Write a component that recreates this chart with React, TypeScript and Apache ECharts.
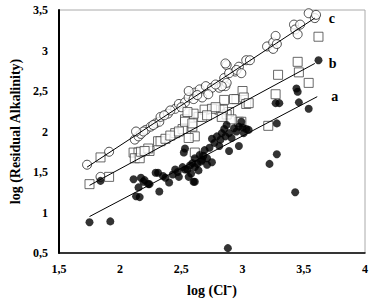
import React, { useEffect, useRef } from "react";
import * as echarts from "echarts";

// Series a: filled black circles [log(Cl-), log(Residual Alkalinity)]
const seriesA: number[][] = [
  [1.75, 0.88], [1.92, 0.89], [1.84, 1.39], [2.11, 1.41], [2.17, 1.43], [2.15, 1.31],
  [2.13, 1.2], [2.16, 1.19], [2.24, 1.35], [2.2, 1.4], [2.32, 1.26], [2.31, 1.49],
  [2.37, 1.43], [2.4, 1.37], [2.45, 1.53], [2.51, 1.56], [2.48, 1.44], [2.55, 1.53],
  [2.52, 1.74], [2.53, 1.79], [2.29, 1.49], [2.59, 1.61], [2.61, 1.67], [2.65, 1.71],
  [2.69, 1.77], [2.6, 1.38], [2.75, 1.91], [2.79, 1.94], [2.83, 1.98], [2.85, 2.03],
  [2.89, 1.98], [2.93, 2.04], [2.97, 2.06], [2.99, 2.12], [2.89, 1.76], [2.97, 1.82],
  [2.81, 1.82], [2.75, 1.62], [2.71, 1.59], [2.19, 1.38], [2.23, 1.35], [3.28, 1.72],
  [3.22, 1.6], [3.43, 1.25], [2.88, 0.56], [2.61, 1.38], [2.56, 1.44], [2.67, 1.65],
  [2.71, 1.67], [2.61, 1.56], [2.53, 1.53], [3.27, 2.35], [3.3, 2.35], [3.46, 2.36],
  [3.54, 2.28], [3.28, 2.1], [3.03, 2.03], [3.05, 2.02], [2.86, 1.94], [3.62, 2.88],
  [3.44, 2.53], [3.45, 2.49], [2.43, 1.47], [2.57, 1.58], [2.63, 1.6], [2.77, 1.86],
  [2.91, 1.92], [3.01, 1.98], [2.95, 2.0], [2.82, 1.9], [2.64, 1.52], [2.68, 1.7],
  [2.73, 1.8], [2.35, 1.45], [2.47, 1.5], [2.58, 1.48], [2.66, 1.63], [2.87, 2.08],
  [3.0, 2.05],
];

// Series b: open squares
const seriesB: number[][] = [
  [1.75, 1.35], [1.91, 1.44], [1.84, 1.68], [2.11, 1.74], [2.15, 1.74], [2.12, 1.67],
  [2.16, 1.67], [2.17, 1.75], [2.24, 1.76], [2.31, 1.88], [2.33, 1.88], [2.37, 1.91],
  [2.45, 1.98], [2.51, 2.03], [2.59, 2.06], [2.61, 1.94], [2.56, 1.92], [2.61, 1.74],
  [2.53, 2.15], [2.64, 2.18], [2.69, 2.27], [2.81, 2.27], [2.85, 2.39], [2.89, 2.24],
  [2.97, 2.12], [2.23, 1.79], [2.2, 1.76], [2.95, 2.4], [2.75, 2.28], [2.67, 2.18],
  [2.6, 2.22], [2.55, 2.24], [2.53, 2.12], [2.59, 2.1], [2.87, 2.21], [2.91, 2.15],
  [3.0, 2.5], [3.01, 2.42], [2.93, 2.4], [2.84, 2.27], [2.83, 2.18], [3.03, 2.34],
  [3.05, 2.35], [2.99, 2.12], [3.21, 2.07], [3.27, 2.46], [3.29, 2.7], [3.46, 2.73],
  [3.45, 2.86], [3.54, 2.6], [3.62, 3.17], [2.41, 1.95], [2.48, 2.0], [2.71, 2.2],
  [2.78, 2.3],
];

// Series c: open circles
const seriesC: number[][] = [
  [1.73, 1.59], [1.91, 1.75], [1.84, 1.44], [2.12, 1.9], [2.15, 1.94], [2.17, 1.97],
  [2.21, 2.02], [2.25, 2.06], [2.29, 2.1], [2.32, 2.12], [2.33, 2.18], [2.39, 2.22],
  [2.45, 2.28], [2.48, 2.34], [2.53, 2.36], [2.56, 2.42], [2.61, 2.48], [2.65, 2.52],
  [2.7, 2.56], [2.75, 2.54], [2.6, 2.4], [2.67, 2.42], [2.72, 2.46], [2.81, 2.54],
  [2.86, 2.56], [2.85, 2.66], [2.87, 2.82], [2.94, 2.74], [2.97, 2.8], [2.56, 2.5],
  [2.86, 2.84], [2.89, 2.72], [2.95, 2.76], [2.99, 2.72], [3.03, 2.88], [3.06, 2.88],
  [3.2, 3.05], [3.25, 3.1], [3.27, 3.18], [3.25, 3.02], [3.28, 3.08], [3.42, 3.32],
  [3.43, 3.26], [3.45, 3.2], [3.47, 3.32], [3.54, 3.46], [3.59, 3.4], [3.6, 3.44],
  [2.87, 2.6], [2.83, 2.56], [2.41, 2.26], [2.36, 2.2], [2.27, 2.08], [2.19, 2.0],
  [2.13, 2.0], [2.5, 2.3], [2.63, 2.45], [2.78, 2.58],
];

// Regression lines (endpoints)
const lineA: number[][] = [[1.75, 0.95], [3.61, 2.43]];
const lineB: number[][] = [[1.75, 1.335], [3.59, 2.84]];
const lineC: number[][] = [[1.73, 1.56], [3.59, 3.4]];

const xTicks = [1.5, 4];
const yTicks = [0.5, 3.5];

const fmt = (v: number) => String(v).replace(".", ",");
const font = "'Liberation Serif', 'Times New Roman', serif";

export default function App() {
  const ref = useRef<HTMLDivElement>(null);
  useEffect(() => {
    if (!ref.current) return;
    const chart = echarts.init(ref.current, undefined, { renderer: "svg" });
    const lineStyleCommon = { color: "#000", width: 1 };
    const endLabel = (t: string) => ({
      show: true,
      formatter: t,
      distance: 14,
      color: "#000",
      fontFamily: font,
      fontWeight: "bold" as const,
      fontSize: 14,
    });
    chart.setOption({
      animation: false,
      backgroundColor: "#fff",
      grid: {
        left: 54,
        top: 10,
        right: 5,
        bottom: 41,
        show: true,
        borderColor: "#aaa",
        borderWidth: 1,
        backgroundColor: "transparent",
      },
      xAxis: {
        type: "value",
        min: xTicks[0],
        max: xTicks[1],
        interval: 0.5,
        name: "log (Cl\u207B)",
        nameLocation: "middle",
        nameGap: 30,
        nameTextStyle: { fontFamily: font, fontWeight: "bold", fontSize: 14, color: "#000" },
        axisLine: { show: true, lineStyle: { color: "#000", width: 1.5 } },
        axisTick: { show: false },
        splitLine: { show: false },
        axisLabel: {
          formatter: fmt,
          fontFamily: font,
          fontWeight: "bold",
          fontSize: 12,
          color: "#000",
          margin: 10,
        },
      },
      yAxis: {
        type: "value",
        min: yTicks[0],
        max: yTicks[1],
        interval: 0.5,
        name: "log (Residual Alkalinity)",
        nameLocation: "middle",
        nameGap: 34,
        nameTextStyle: { fontFamily: font, fontWeight: "bold", fontSize: 14, color: "#000" },
        axisLine: { show: true, lineStyle: { color: "#000", width: 2 } },
        axisTick: { show: false },
        splitLine: { show: false },
        axisLabel: {
          formatter: fmt,
          fontFamily: font,
          fontWeight: "bold",
          fontSize: 12,
          color: "#000",
          margin: 11,
        },
      },
      series: [
        {
          type: "scatter",
          data: seriesC,
          symbol: "circle",
          symbolSize: 9,
          itemStyle: { color: "#fff", borderColor: "#222", borderWidth: 1 },
          z: 3,
        },
        {
          type: "scatter",
          data: seriesB,
          symbol: "rect",
          symbolSize: 9,
          itemStyle: { color: "#fff", borderColor: "#444", borderWidth: 1 },
          z: 3,
        },
        {
          type: "scatter",
          data: seriesA,
          symbol: "circle",
          symbolSize: 8,
          itemStyle: { color: "#000" },
          z: 4,
        },
        {
          type: "line",
          data: lineA,
          showSymbol: false,
          lineStyle: lineStyleCommon,
          endLabel: endLabel("a"),
          z: 5,
        },
        {
          type: "line",
          data: lineB,
          showSymbol: false,
          lineStyle: lineStyleCommon,
          endLabel: endLabel("b"),
          z: 5,
        },
        {
          type: "line",
          data: lineC,
          showSymbol: false,
          lineStyle: lineStyleCommon,
          endLabel: endLabel("c"),
          z: 5,
        },
      ],
    });
    return () => chart.dispose();
  }, []);
  return (
    <div
      ref={ref}
      style={{ position: "fixed", left: 0, top: 0, width: 371, height: 302, background: "#fff" }}
    />
  );
}
